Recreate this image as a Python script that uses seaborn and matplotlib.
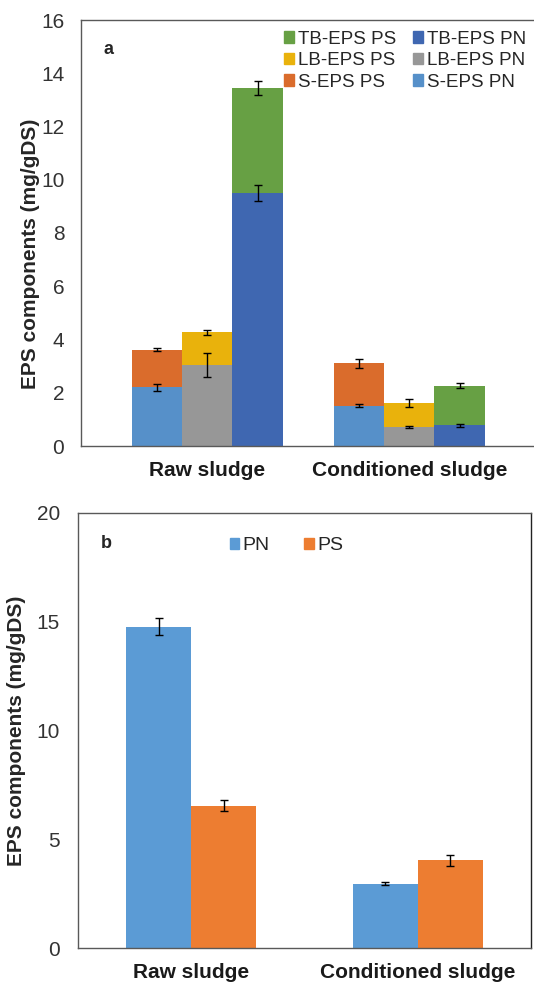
import matplotlib
matplotlib.use("Agg")
import matplotlib.pyplot as plt
from matplotlib.patches import Patch
from matplotlib.ticker import FixedLocator
import numpy as np
import pandas as pd
import seaborn as sns

# ---- data: panel a (stacked PN + PS per EPS fraction) ----
samples = ["Raw sludge", "Conditioned sludge"]
fractions = ["S-EPS", "LB-EPS", "TB-EPS"]
pn_a = [[2.20, 3.03, 9.51], [1.52, 0.72, 0.77]]
pn_a_err = [[0.13, 0.45, 0.29], [0.06, 0.04, 0.07]]
ps_a = [[1.42, 1.24, 3.94], [1.58, 0.88, 1.49]]
total_a_err = [[0.06, 0.09, 0.25], [0.17, 0.15, 0.09]]

# ---- data: panel b (total PN and PS) ----
components = ["PN", "PS"]
total_b = [[14.78, 6.55], [2.96, 4.03]]
total_b_err = [[0.40, 0.26], [0.06, 0.25]]

pn_colors = {"S-EPS": "#5690C9", "LB-EPS": "#979797", "TB-EPS": "#3F67B1"}
ps_colors = {"S-EPS": "#DA6C2C", "LB-EPS": "#E9B20C", "TB-EPS": "#67A044"}
b_colors = {"PN": "#5B9BD5", "PS": "#ED7D31"}

sns.set_theme(style="white")
plt.rcParams["font.family"] = ["Liberation Sans", "DejaVu Sans"]
plt.rcParams["axes.edgecolor"] = "#595959"
plt.rcParams["axes.linewidth"] = 1.0

fig = plt.figure(figsize=(5.34, 9.82), dpi=100)
ax_a = fig.add_axes([81 / 534, 1 - 446 / 982, 1 - 81 / 534, 426 / 982])
ax_b = fig.add_axes([78 / 534, 1 - 948 / 982, 453 / 534, 435 / 982])

# ---------- panel a ----------
rows = []
for gi, s in enumerate(samples):
    for fi, f in enumerate(fractions):
        rows.append({
            "sample": s, "fraction": f,
            "slot": gi * 4 + fi + 1.5,
            "pn": pn_a[gi][fi], "ps": ps_a[gi][fi],
            "pn_err": pn_a_err[gi][fi], "tot_err": total_a_err[gi][fi],
        })
df_a = pd.DataFrame(rows)
df_a["total"] = df_a["pn"] + df_a["ps"]

sns.barplot(data=df_a, x="slot", y="total", hue="fraction", palette=ps_colors,
            native_scale=True, dodge=False, width=1.0, saturation=1,
            errorbar=None, legend=False, linewidth=0, ax=ax_a)
sns.barplot(data=df_a, x="slot", y="pn", hue="fraction", palette=pn_colors,
            native_scale=True, dodge=False, width=1.0, saturation=1,
            errorbar=None, legend=False, linewidth=0, ax=ax_a)
ax_a.errorbar(df_a["slot"], df_a["pn"], yerr=df_a["pn_err"], fmt="none",
              ecolor="black", elinewidth=1, capsize=3, capthick=1)
ax_a.errorbar(df_a["slot"], df_a["total"], yerr=df_a["tot_err"], fmt="none",
              ecolor="black", elinewidth=1, capsize=3, capthick=1)

ax_a.set_xlim(0, 453 / 50.5)
ax_a.set_ylim(0, 16)
ax_a.set_yticks(np.arange(0, 17, 2))
ax_a.xaxis.set_major_locator(FixedLocator([2.5, 6.5]))
ax_a.set_xticklabels(samples, fontsize=15, fontweight="bold", color="#1a1a1a")
ax_a.xaxis.set_minor_locator(FixedLocator(np.arange(0, 9)))
ax_a.tick_params(axis="x", which="major", length=0, pad=11)
ax_a.tick_params(axis="x", which="minor", length=5, direction="out",
                 color="#404040", width=1)
ax_a.tick_params(axis="y", length=5, direction="out", color="#404040",
                 width=1, pad=7, labelsize=15, labelcolor="#333333")
ax_a.set_xlabel("")
ax_a.set_ylabel("EPS components (mg/gDS)", fontsize=15, fontweight="bold")
ax_a.yaxis.set_label_coords(-0.09, 0.45)
ax_a.spines["right"].set_visible(False)
ax_a.text(0.05, 0.93, "a", transform=ax_a.transAxes, fontsize=13,
          fontweight="bold", va="center")

handles = [Patch(color=ps_colors[f], label=f"{f} PS") for f in reversed(fractions)]
handles += [Patch(color=pn_colors[f], label=f"{f} PN") for f in reversed(fractions)]
ax_a.legend(handles=handles, ncol=2, loc="upper left",
            bbox_to_anchor=(0.415, 1.01), frameon=False, fontsize=13.5,
            handlelength=0.55, handleheight=0.55, handletextpad=0.2,
            columnspacing=0.9, labelspacing=0.24, borderaxespad=0.4)

# ---------- panel b ----------
rows = []
for gi, s in enumerate(samples):
    for ci, c in enumerate(components):
        rows.append({"sample": s, "component": c,
                     "value": total_b[gi][ci], "err": total_b_err[gi][ci]})
df_b = pd.DataFrame(rows)

sns.barplot(data=df_b, x="sample", y="value", hue="component", palette=b_colors,
            width=0.575, saturation=1, errorbar=None, linewidth=0, ax=ax_b)
for container, comp in zip(ax_b.containers, components):
    sub = df_b[df_b["component"] == comp]
    xs = [bar.get_x() + bar.get_width() / 2 for bar in container]
    ax_b.errorbar(xs, sub["value"], yerr=sub["err"], fmt="none",
                  ecolor="black", elinewidth=1, capsize=3, capthick=1)

ax_b.set_xlim(-0.5, 1.5)
ax_b.set_ylim(0, 20)
ax_b.set_yticks([0, 5, 10, 15, 20])
ax_b.set_xticks([0, 1])
ax_b.set_xticklabels(samples, fontsize=15, fontweight="bold", color="#1a1a1a")
ax_b.xaxis.set_minor_locator(FixedLocator([-0.5, 0.5, 1.5]))
ax_b.tick_params(axis="x", which="major", length=0, pad=11)
ax_b.tick_params(axis="x", which="minor", length=6, direction="out",
                 color="#404040", width=1)
ax_b.tick_params(axis="y", length=6, direction="out", color="#404040",
                 width=1, pad=7, labelsize=15, labelcolor="#333333")
ax_b.set_xlabel("")
ax_b.set_ylabel("EPS components (mg/gDS)", fontsize=15, fontweight="bold")
ax_b.yaxis.set_label_coords(-0.115, 0.5)
ax_b.spines["right"].set_color("#222222")
ax_b.text(0.05, 0.93, "b", transform=ax_b.transAxes, fontsize=13,
          fontweight="bold", va="center")
ax_b.legend(handles=[Patch(color=b_colors[c], label=c) for c in components],
            ncol=2, loc="upper center", bbox_to_anchor=(0.46, 0.985),
            frameon=False, fontsize=14, handlelength=0.5, handleheight=0.5,
            handletextpad=0.15, columnspacing=1.8)

fig.savefig("out.png", dpi=100)
